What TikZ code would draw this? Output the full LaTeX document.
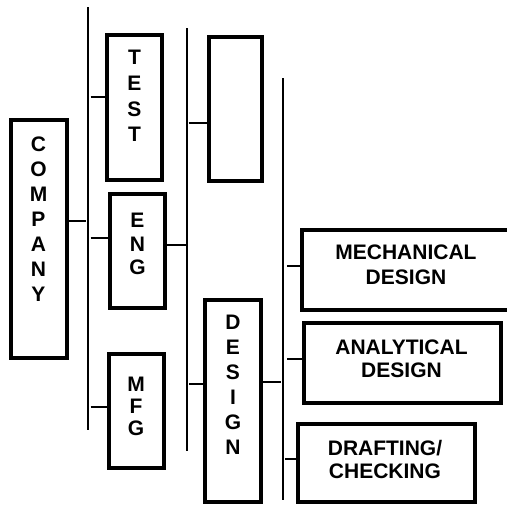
\documentclass[tikz,border=0pt]{standalone}
\usepackage{fontspec}
\setmainfont{Liberation Sans}
\begin{document}
\begin{tikzpicture}[x=1pt,y=-1pt,
  box/.style={draw,line width=4.4pt,inner sep=0pt,fill=white},
  bus/.style={line width=2.6pt},
  conn/.style={line width=2.6pt},
  lbl/.style={font=\bfseries\fontsize{21}{25}\selectfont,align=center,inner sep=0pt}]
\clip (0,0) rectangle (507,506);
% buses
\coordinate (b1t) at (88,7);   \coordinate (b1b) at (88,430);
\coordinate (b2t) at (187,28); \coordinate (b2b) at (187,451);
\coordinate (b3t) at (283,78); \coordinate (b3b) at (283,500);
\draw[bus] (b1t) -- (b1b);
\draw[bus] (b2t) -- (b2b);
\draw[bus] (b3t) -- (b3b);
% boxes
\node[box,minimum width=55.6pt,minimum height=237.6pt] (company) at (39,239) {};
\node[box,minimum width=54.6pt,minimum height=144.6pt] (test) at (134.5,107.5) {};
\node[box,minimum width=54.6pt,minimum height=113.6pt] (eng) at (137.5,251) {};
\node[box,minimum width=52.6pt,minimum height=143.6pt] (blank) at (235.5,109) {};
\node[box,minimum width=54.6pt,minimum height=113.6pt] (mfg) at (136.5,411) {};
\node[box,minimum width=55.6pt,minimum height=201.6pt] (design) at (233,401) {};
\node[box,minimum width=212pt,minimum height=79.6pt] (mech) at (408.1,270) {};
\node[box,minimum width=196.6pt,minimum height=79.6pt] (anal) at (402.5,363) {};
\node[box,minimum width=176.6pt,minimum height=77.6pt] (draft) at (386.5,463) {};
% labels
\node[lbl] (companyT) at (38.5,219.5) {C\\O\\M\\P\\A\\N\\Y};
\node[lbl,font=\bfseries\fontsize{21}{25.7}\selectfont] (testT) at (134.5,96) {T\\E\\S\\T};
\node[lbl,font=\bfseries\fontsize{21}{23.5}\selectfont] (engT) at (137.5,244) {E\\N\\G};
\node[lbl,font=\bfseries\fontsize{21}{22}\selectfont] (mfgT) at (136,406) {M\\F\\G};
\node[lbl] (designT) at (233,385) {D\\E\\S\\I\\G\\N};
\node[lbl] (mechT) at (406,265) {MECHANICAL\\DESIGN};
\node[lbl,font=\bfseries\fontsize{21}{23}\selectfont] (analT) at (401.5,359) {ANALYTICAL\\DESIGN};
\node[lbl,font=\bfseries\fontsize{21}{23}\selectfont] (draftT) at (385,459.5) {DRAFTING/\\CHECKING};
% junction points
\coordinate (jc) at (86,221);
\coordinate (jt) at (90.5,97);
\coordinate (je) at (90.5,238);
\coordinate (jm) at (90.5,407);
\coordinate (je2) at (186,245);
\coordinate (jb) at (188.5,123);
\coordinate (jd) at (189,384);
\coordinate (jd2) at (281,382);
\coordinate (jme) at (287,266);
\coordinate (ja) at (287,359);
\coordinate (jdr) at (285,459);
% connectors
\draw[conn] (company.east |- jc) -- (jc);
\draw[conn] (jt) -- (test.west |- jt);
\draw[conn] (je) -- (eng.west |- je);
\draw[conn] (jm) -- (mfg.west |- jm);
\draw[conn] (eng.east |- je2) -- (je2);
\draw[conn] (jb) -- (blank.west |- jb);
\draw[conn] (jd) -- (design.west |- jd);
\draw[conn] (design.east |- jd2) -- (jd2);
\draw[conn] (jme) -- (mech.west |- jme);
\draw[conn] (ja) -- (anal.west |- ja);
\draw[conn] (jdr) -- (draft.west |- jdr);
\end{tikzpicture}
\end{document}
